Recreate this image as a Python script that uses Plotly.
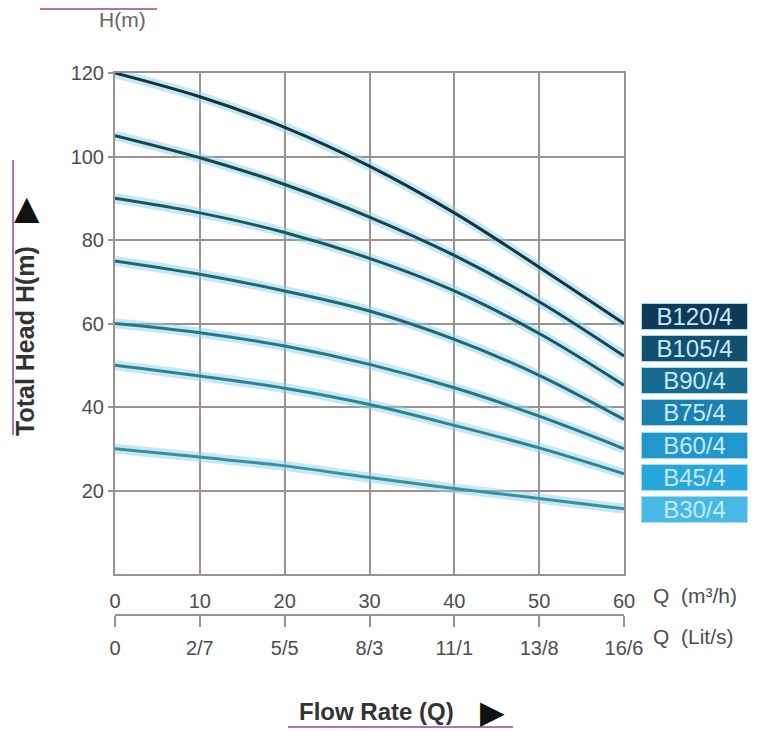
import plotly.graph_objects as go

# ---- data ----
flow_m3h = [0, 10, 20, 30, 40, 50, 60]
flow_lits_labels = ["0", "2/7", "5/5", "8/3", "11/1", "13/8", "16/6"]
models = ["B120/4", "B105/4", "B90/4", "B75/4", "B60/4", "B45/4", "B30/4"]
head_B120 = [120, 114.3, 107.0, 97.7, 86.5, 73.5, 60.0]
head_B105 = [105, 99.7, 93.3, 85.5, 76.3, 65.2, 52.2]
head_B90 = [90, 86.5, 81.8, 75.6, 67.8, 57.6, 45.2]
head_B75 = [75, 71.8, 67.8, 63.0, 56.2, 47.6, 37.0]
head_B60 = [60, 57.8, 54.6, 50.2, 44.6, 37.8, 30.0]
head_B45 = [50, 47.4, 44.5, 40.6, 35.6, 30.2, 24.0]
head_B30 = [30, 28.0, 25.9, 23.1, 20.5, 18.1, 15.6]
heads = [head_B120, head_B105, head_B90, head_B75, head_B60, head_B45, head_B30]
y_ticks = [20, 40, 60, 80, 100, 120]

line_colors = ["#14353b", "#194750", "#1c5760", "#206872", "#277883", "#2d848f", "#3a919b"]
box_colors = ["#0d3a58", "#11506f", "#176a90", "#1b80b0", "#2196cc", "#28a7dc", "#48b9e6"]

OFF = 8  # page body margin
W, H = 757 - OFF, 731 - OFF
L, R, T, B = 115, 624, 73, 615
PLOT_BOTTOM = 574


def px(x):
    return (x - L) / (R - L)


def py(y):
    return (B - y) / (B - T)


fig = go.Figure()
for name, h, c in zip(models, heads, line_colors):
    fig.add_trace(go.Scatter(x=flow_m3h, y=h, mode="lines", line=dict(color="rgba(140,210,240,0.5)", width=10, shape="spline"),
                             hoverinfo="skip", showlegend=False))
    fig.add_trace(go.Scatter(x=flow_m3h, y=h, mode="lines", name=name, line=dict(color=c, width=3, shape="spline"),
                             showlegend=False))

# invisible trace for the secondary flow axis
fig.add_trace(go.Scatter(x=[flow_m3h[0], flow_m3h[-1]], y=[None, None], xaxis="x2", yaxis="y", showlegend=False,
                         hoverinfo="skip"))

grid = "#9b9191"
font_tick = dict(family="Liberation Sans, Arial", size=20, color="#4d4d4d")

fig.update_layout(
    width=W, height=H,
    margin=dict(l=L - OFF, r=757 - R, t=T - OFF, b=731 - B, autoexpand=False),
    paper_bgcolor="white", plot_bgcolor="white",
    xaxis=dict(range=[0, 60], tickvals=flow_m3h, showgrid=True, gridcolor=grid, gridwidth=2,
               showline=True, linecolor=grid, linewidth=2, mirror=True, ticks="", zeroline=False,
               tickfont=font_tick, ticklabelstandoff=8, automargin=False),
    xaxis2=dict(range=[0, 60], overlaying="x", anchor="free", position=0, side="bottom",
                tickvals=flow_m3h, ticktext=flow_lits_labels, showgrid=False, showline=True,
                linecolor=grid, linewidth=2, ticks="outside", ticklen=11, tickwidth=2, tickcolor=grid,
                tickfont=font_tick, ticklabelstandoff=4, zeroline=False, automargin=False),
    yaxis=dict(range=[0, 120], domain=[(B - PLOT_BOTTOM) / (B - T), 1], tickvals=y_ticks, showgrid=True,
               gridcolor=grid, gridwidth=2, showline=True, linecolor=grid, linewidth=2, mirror=True,
               ticks="outside", ticklen=5, tickwidth=2, tickcolor=grid, zeroline=False,
               tickfont=font_tick, ticklabelstandoff=0, automargin=False),
)

ann = []
for i, (name, bc) in enumerate(zip(models, box_colors)):
    ann.append(dict(x=px(694.5), y=py(316 + 32.3 * i), text=name,
                    width=103, height=23, borderpad=1, bgcolor=bc,
                    bordercolor="#a9dcf0", borderwidth=1,
                    font=dict(family="Liberation Sans, Arial", size=24, color="#c4e9f7")))

ann += [
    dict(x=px(122), y=py(19), text="H(m)", font=dict(family="Liberation Sans, Arial", size=21, color="#666")),
    dict(x=px(25), y=py(341), text="<b>Total Head H(m)</b>", textangle=-90,
         font=dict(family="Liberation Sans, Arial", size=25, color="#333")),
    dict(x=px(27), y=py(207), text="▲", font=dict(family="DejaVu Sans", size=33, color="#111")),
    dict(x=px(376), y=py(711), text="<b>Flow Rate (Q)</b>",
         font=dict(family="Liberation Sans, Arial", size=24, color="#333")),
    dict(x=px(492), y=py(712), text="▶", font=dict(family="DejaVu Sans", size=32, color="#111")),
    dict(x=px(651), y=py(595), text="Q  (m³/h)", xanchor="left",
         font=dict(family="Liberation Sans, Arial", size=21, color="#4d4d4d")),
    dict(x=px(651), y=py(637), text="Q  (Lit/s)", xanchor="left",
         font=dict(family="Liberation Sans, Arial", size=21, color="#4d4d4d")),
]
for a in ann:
    a.setdefault("xref", "paper")
    a.setdefault("yref", "paper")
    a.setdefault("showarrow", False)
    a.setdefault("xanchor", "center")
    a.setdefault("yanchor", "middle")
fig.update_layout(annotations=ann)

pink = "#b873a6"
fig.update_layout(shapes=[
    dict(type="line", xref="paper", yref="paper", x0=px(40), x1=px(157), y0=py(9), y1=py(9),
         line=dict(color=pink, width=2)),
    dict(type="line", xref="paper", yref="paper", x0=px(13), x1=px(13), y0=py(160), y1=py(435),
         line=dict(color=pink, width=2)),
    dict(type="line", xref="paper", yref="paper", x0=px(288), x1=px(513), y0=py(727), y1=py(727),
         line=dict(color=pink, width=2)),
])

fig.write_html("out.html")
